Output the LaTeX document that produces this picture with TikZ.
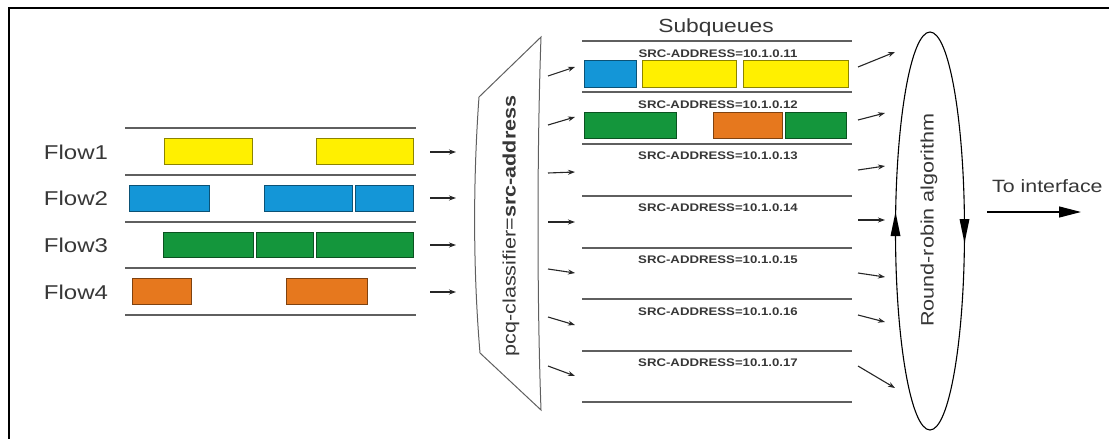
\documentclass[tikz,border=0pt]{standalone}
\usepackage{fontspec}
\setmainfont{Liberation Sans}
\usetikzlibrary{arrows.meta,shapes.geometric}
\definecolor{qyellow}{RGB}{255,240,0}
\definecolor{qblue}{RGB}{20,150,215}
\definecolor{qgreen}{RGB}{20,150,60}
\definecolor{qorange}{RGB}{230,120,30}
\definecolor{txt}{RGB}{55,55,55}
\definecolor{ln}{RGB}{95,95,95}
\newcommand{\wide}[1]{\scalebox{1.2}[1]{#1}}
\begin{document}
\begin{tikzpicture}[x=1pt,y=-1pt,
  pkt/.style={draw=#1!55!black, fill=#1, line width=0.8pt},
  sep/.style={draw=ln, line width=1.6pt},
  sarrow/.style={-{Stealth[length=7pt,width=5pt]}, line width=1.1pt, draw=black!85},
  lbl/.style={inner sep=0pt, text=txt, anchor=base, font=\fontsize{20}{24}\selectfont},
  srclbl/.style={inner sep=0pt, text=txt, anchor=base, font=\fontsize{11}{13}\selectfont\bfseries},
  vlbl/.style={inner sep=0pt, text=txt, rotate=90, font=\fontsize{18}{22}\selectfont}]
\useasboundingbox (0,0) rectangle (1109,439);
% frame (cropped)
\draw[line width=2.5pt] (1109,8) -- (9,8) -- (9,439);

% ---------- flows ----------
\foreach \y in {128,175,222,268,315} \draw[sep] (125,\y) -- (416,\y);
\draw[pkt=qyellow] (164,138) rectangle (252,164);
\draw[pkt=qyellow] (316,138) rectangle (413,164);
\draw[pkt=qblue] (129,185) rectangle (209,211);
\draw[pkt=qblue] (264,185) rectangle (352,211);
\draw[pkt=qblue] (355,185) rectangle (413,211);
\draw[pkt=qgreen] (163,232) rectangle (253,257);
\draw[pkt=qgreen] (256,232) rectangle (313,257);
\draw[pkt=qgreen] (316,232) rectangle (413,257);
\draw[pkt=qorange] (132,278) rectangle (191,304);
\draw[pkt=qorange] (286,278) rectangle (367,304);

\node[lbl] (f1) at (76,159) {\wide{Flow1}};
\node[lbl] (f2) at (76,205) {\wide{Flow2}};
\node[lbl] (f3) at (76,252) {\wide{Flow3}};
\node[lbl] (f4) at (76,299) {\wide{Flow4}};

\foreach \i/\y in {1/152,2/198,3/245,4/292}{
  \coordinate (fa\i) at (430,\y);
  \coordinate (fb\i) at (456,\y);
  \draw[sarrow] (fa\i) -- (fb\i);
}

% ---------- classifier ----------
\draw[line width=1pt, draw=ln] (541,37) .. controls (537,150) and (537,300) .. (541,410)
  -- (480,353) .. controls (473,270) and (473,180) .. (479,97) -- cycle;
\node[vlbl] (cls) at (511,226) {\wide{pcq-classifier=\textbf{src-address}}};

% ---------- subqueues ----------
\node[lbl, font=\fontsize{19}{22}\selectfont] (sq) at (716,32) {\wide{Subqueues}};
\foreach \y in {41,92,144,196,248,299,351,402} \draw[sep] (582,\y) -- (852,\y);
\foreach \y/\n in {57/11,108/12,159/13,211/14,263/15,315/16,366/17}
  \node[srclbl] (src\n) at (718,\y) {\wide{SRC-ADDRESS=10.1.0.\n}};

\draw[pkt=qblue] (584,60) rectangle (636,87);
\draw[pkt=qyellow] (642,60) rectangle (736,87);
\draw[pkt=qyellow] (743,60) rectangle (848,87);
\draw[pkt=qgreen] (584,112) rectangle (676,138);
\draw[pkt=qorange] (713,112) rectangle (782,138);
\draw[pkt=qgreen] (785,112) rectangle (846,138);

\foreach \i/\ya/\yb in {1/76/67,2/125/117,3/173/172,4/222/222,5/269/273,6/317/325,7/366/376}{
  \coordinate (ca\i) at (548,\ya);
  \coordinate (cb\i) at (575,\yb);
  \draw[sarrow] (ca\i) -- (cb\i);
}

% ---------- round robin ----------
\foreach \i/\ya/\xb/\yb in {1/67/895/52,2/120/885/113,3/170/885/166,4/220/885/220,5/273/885/277,6/315/885/322,7/366/895/388}{
  \coordinate (ra\i) at (858,\ya);
  \coordinate (rb\i) at (\xb,\yb);
  \draw[sarrow] (ra\i) -- (rb\i);
}
\node[draw, ellipse, line width=1.1pt, minimum width=69pt, minimum height=398pt, inner sep=0pt] (rr) at (930,231) {};
\node[vlbl] (rrt) at (929,220) {\wide{Round-robin algorithm}};
\fill (895.5,212) -- (890.5,236) -- (900.5,236) -- cycle;
\fill (964.5,243) -- (959.5,219) -- (969.5,219) -- cycle;

% ---------- to interface ----------
\node[lbl, anchor=base west, font=\fontsize{17.8}{21}\selectfont] (ti) at (992,192) {\wide{To interface}};
\coordinate (tia) at (987,212);
\coordinate (tib) at (1081,212);
\draw[-{Triangle[length=22pt,width=11pt]}, line width=1.2pt] (tia) -- (tib);
\end{tikzpicture}
\end{document}
